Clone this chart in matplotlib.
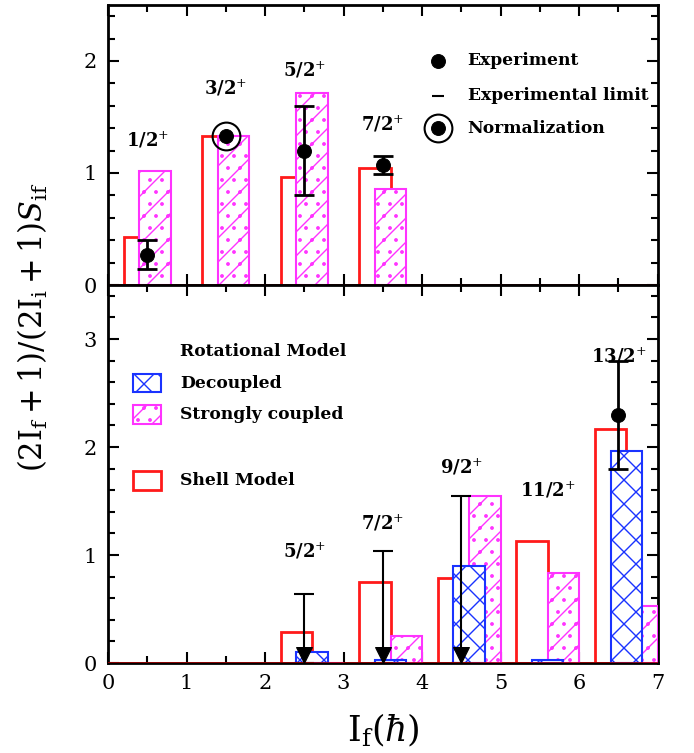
import matplotlib.pyplot as plt
from matplotlib.patches import Rectangle
from matplotlib.ticker import MultipleLocator

# top panel: 1/2+ ... 7/2+
spins_top = [0.5, 1.5, 2.5, 3.5]
labels_top = ["1/2", "3/2", "5/2", "7/2"]
shell_top = [0.43, 1.33, 0.96, 1.04]
strong_top = [1.02, 1.33, 1.71, 0.86]
exp_top_x = [0.5, 2.5, 3.5]
exp_top_y = [0.27, 1.20, 1.07]
exp_top_lo = [0.14, 0.80, 0.99]
exp_top_hi = [0.40, 1.60, 1.15]
norm_x = [1.5]
norm_y = [1.33]

# bottom panel: 5/2+ ... 13/2+
spins_bot = [2.5, 3.5, 4.5, 5.5, 6.5]
labels_bot = ["5/2", "7/2", "9/2", "11/2", "13/2"]
shell_bot = [0.29, 0.75, 0.79, 1.13, 2.17]
decoupled_bot = [0.10, 0.03, 0.90, 0.03, 1.96]
strong_bot = [0.0, 0.25, 1.55, 0.83, 0.53]
limit_x = [2.5, 3.5, 4.5]
limit_y = [0.64, 1.04, 1.55]
exp_bot_x = [6.5]
exp_bot_y = [2.30]
exp_bot_lo = [1.80]
exp_bot_hi = [2.80]

RED = "#ff1a1a"
PINK = "#ff33ff"
BLUE = "#1a33ff"

# drawn at 72 dpi so the hatch spacing comes out ~12 px; P converts
# the sizes I worked out at 100 dpi
DPI = 72
P = 100 / 72

plt.rcParams["font.family"] = "DejaVu Serif"
plt.rcParams["mathtext.fontset"] = "dejavuserif"
plt.rcParams["hatch.linewidth"] = 1.0 * P


def style_axes(ax, ymax):
    ax.set_xlim(0, 7)
    ax.set_ylim(0, ymax)
    ax.xaxis.set_major_locator(MultipleLocator(1))
    ax.xaxis.set_minor_locator(MultipleLocator(0.5))
    ax.yaxis.set_major_locator(MultipleLocator(1))
    ax.yaxis.set_minor_locator(MultipleLocator(0.2))
    ax.tick_params(which="both", direction="in", top=True, right=True, width=1.5 * P)
    ax.tick_params(which="major", length=8 * P, labelsize=15 * P, pad=8 * P)
    ax.tick_params(which="minor", length=5 * P)
    for s in ax.spines.values():
        s.set_linewidth(2 * P)
    ax.axhline(0, color="#a00000", lw=1.2 * P, zorder=6)


def main():
    fig = plt.figure(figsize=(694 / DPI, 753 / DPI), dpi=DPI)
    ax1 = fig.add_axes([0.1556, 0.6215, 0.792, 0.372])
    ax2 = fig.add_axes([0.1556, 0.1195, 0.792, 0.502])
    style_axes(ax1, 2.5)
    style_axes(ax2, 3.5)
    ax1.tick_params(labelbottom=False)

    # ---- top panel
    ax1.bar([s - 0.1 for s in spins_top], shell_top, width=0.4, facecolor="white",
            edgecolor=RED, lw=2 * P, zorder=2)
    ax1.bar([s + 0.1 for s in spins_top], strong_top, width=0.4, facecolor="white",
            edgecolor=PINK, hatch="/.", lw=1.5 * P, zorder=3)
    yerr = [[y - lo for y, lo in zip(exp_top_y, exp_top_lo)],
            [hi - y for y, hi in zip(exp_top_y, exp_top_hi)]]
    ax1.errorbar(exp_top_x, exp_top_y, yerr=yerr, fmt="o", color="black", ms=10 * P,
                 elinewidth=2 * P, capsize=7 * P, capthick=2 * P, zorder=5)
    ax1.plot(norm_x, norm_y, "o", color="black", ms=10 * P, zorder=5)
    ax1.plot(norm_x, norm_y, "o", mfc="none", mec="black", ms=20 * P, mew=1.5 * P, zorder=5)
    tops_top = [1.29, 1.76, 1.92, 1.43]
    for s, lab, yt in zip(spins_top, labels_top, tops_top):
        ax1.text(s, yt, lab + "$^{+}$", ha="center", va="center", fontsize=13 * P,
                 fontweight="bold")

    # legend (top)
    ax1.plot([4.2], [2.0], "o", color="black", ms=10 * P)
    ax1.plot([4.2], [1.69], "_", color="black", ms=9 * P, mew=1.5 * P)
    ax1.plot([4.2], [1.40], "o", color="black", ms=10 * P)
    ax1.plot([4.2], [1.40], "o", mfc="none", mec="black", ms=20 * P, mew=1.5 * P)
    for yy, txt in zip([2.0, 1.69, 1.40], ["Experiment", "Experimental limit", "Normalization"]):
        ax1.text(4.58, yy, txt, ha="left", va="center", fontsize=12.3 * P, fontweight="bold")

    # ---- bottom panel
    ax2.bar([s - 0.1 for s in spins_bot], shell_bot, width=0.4, facecolor="white",
            edgecolor=RED, lw=2 * P, zorder=2)
    ax2.bar([s + 0.3 for s in spins_bot], strong_bot, width=0.4, facecolor="white",
            edgecolor=PINK, hatch="/.", lw=1.5 * P, zorder=3)
    ax2.bar([s + 0.1 for s in spins_bot], decoupled_bot, width=0.4, facecolor="white",
            edgecolor=BLUE, hatch="x", lw=1.5 * P, zorder=4)

    # upper limits
    for x, y in zip(limit_x, limit_y):
        ax2.errorbar([x], [y / 2], yerr=[[y / 2], [y / 2]], fmt="none", color="black",
                     elinewidth=1.5 * P, capsize=7 * P, capthick=1.5 * P, zorder=5)
    ax2.plot(limit_x, [0.075] * len(limit_x), "v", color="black", ms=11.5 * P,
             zorder=6, clip_on=False)
    yerr = [[y - lo for y, lo in zip(exp_bot_y, exp_bot_lo)],
            [hi - y for y, hi in zip(exp_bot_y, exp_bot_hi)]]
    ax2.errorbar(exp_bot_x, exp_bot_y, yerr=yerr, fmt="o", color="black", ms=10 * P,
                 elinewidth=2 * P, capsize=7 * P, capthick=2 * P, zorder=5)
    tops_bot = [1.03, 1.29, 1.81, 1.60, 2.84]
    xs_bot = [2.5, 3.5, 4.5, 5.6, 6.5]
    for s, lab, yt in zip(xs_bot, labels_bot, tops_bot):
        ax2.text(s, yt, lab + "$^{+}$", ha="center", va="center", fontsize=13 * P,
                 fontweight="bold")

    # legend (bottom)
    ax2.text(0.92, 2.88, "Rotational Model", ha="left", va="center", fontsize=12.3 * P,
             fontweight="bold")
    boxes = [(2.59, BLUE, "x", "Decoupled"), (2.30, PINK, "/.", "Strongly coupled"),
             (1.69, RED, None, "Shell Model")]
    for yy, col, h, txt in boxes:
        ax2.add_patch(Rectangle((0.32, yy - 0.085), 0.35, 0.17, facecolor="white",
                                edgecolor=col, hatch=h, lw=(2 if h is None else 1.5) * P))
        ax2.text(0.92, yy, txt, ha="left", va="center", fontsize=12.3 * P,
                 fontweight="bold")

    fig.text(0.553, 0.030, r"$\mathrm{I_f}(\hbar)$", ha="center", va="center",
             fontsize=25 * P)
    fig.text(0.048, 0.565, r"$(2\mathrm{I_f}+1)/(2\mathrm{I_i}+1)S_\mathrm{if}$",
             rotation=90, ha="center", va="center", fontsize=22 * P)

    fig.savefig("out.png", dpi=DPI)


if __name__ == "__main__":
    main()
